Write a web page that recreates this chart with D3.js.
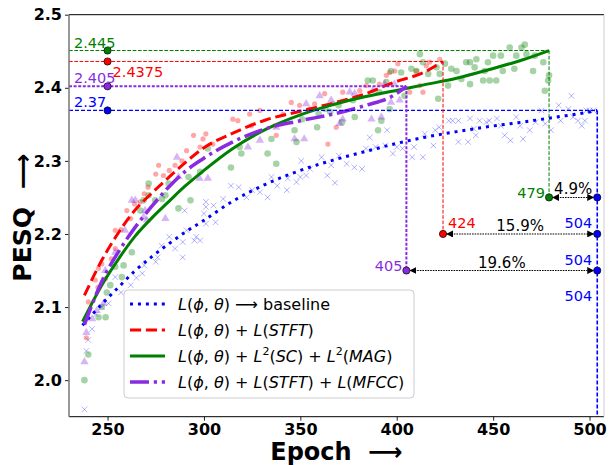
<!DOCTYPE html>
<html>
<head>
<meta charset="utf-8">
<script src="https://d3js.org/d3.v7.min.js"></script>
<style>
    body { margin: 0; background: #fff; }
    svg { display: block; font-family: "DejaVu Sans", sans-serif; }
</style>
</head>
<body>
<svg id="svg" width="609" height="465"></svg>
<script>
    // ---- data ----
    const xTicks = [250, 300, 350, 400, 450, 500];
    const yTicks = [2.0, 2.1, 2.2, 2.3, 2.4, 2.5];

    const seriesColors = ["blue", "red", "green", "blueviolet"];
    const legendLabels = [
        "L(ϕ, θ) ⟶ baseline",
        "L(ϕ, θ) + L(STFT)",
        "L(ϕ, θ) + L^2(SC) + L^2(MAG)",
        "L(ϕ, θ) + L(STFT) + L(MFCC)"
    ];

    // fitted curves [epoch, pesq]
    const baselineFit = [[237, 2.075], [247, 2.104], [256, 2.128], [264, 2.149], [273, 2.169], [282, 2.187], [290, 2.202],
        [299, 2.217], [315, 2.245], [332, 2.268], [350, 2.287], [367, 2.301], [384, 2.313], [400, 2.324], [414, 2.332],
        [431, 2.34], [448, 2.347], [465, 2.353], [483, 2.36], [500, 2.367], [504, 2.369]];
    const stftFit = [[238, 2.116], [247, 2.164], [256, 2.203], [264, 2.232], [273, 2.256], [282, 2.278], [290, 2.297],
        [300, 2.318], [315, 2.338], [332, 2.356], [350, 2.368], [367, 2.379], [384, 2.392], [398, 2.407], [414, 2.421], [424, 2.436]];
    const scMagFit = [[237, 2.08], [247, 2.13], [256, 2.167], [264, 2.196], [273, 2.222], [282, 2.245], [290, 2.265],
        [300, 2.287], [315, 2.317], [332, 2.343], [350, 2.363], [367, 2.377], [384, 2.388], [401, 2.397], [414, 2.404],
        [431, 2.413], [448, 2.425], [465, 2.438], [479, 2.451]];
    const mfccFit = [[238, 2.076], [241, 2.097], [247, 2.135], [256, 2.177], [264, 2.208], [273, 2.238], [282, 2.265],
        [290, 2.285], [299, 2.302], [315, 2.326], [332, 2.344], [350, 2.355], [367, 2.364], [384, 2.376], [398, 2.389], [405, 2.402]];

    // raw scores [epoch, pesq]
    const baselineScores = [[238, 1.96], [239, 2.04], [240, 2.055], [242, 2.07], [244, 2.09], [247, 2.1], [250.5, 2.105],
        [254, 2.141], [257, 2.12], [262, 2.13], [265, 2.14], [268, 2.146], [269, 2.157], [275, 2.162], [276, 2.168],
        [278, 2.184], [282, 2.196], [285, 2.18], [289, 2.168], [289, 2.189], [291, 2.205], [290, 2.232], [295, 2.191],
        [296, 2.196], [298, 2.191], [300, 2.228], [301, 2.237], [301, 2.214], [301, 2.244], [305, 2.239], [306, 2.216],
        [310, 2.248], [314, 2.266], [318, 2.264], [322, 2.25], [325, 2.26], [329, 2.257], [333, 2.25], [335, 2.278],
        [338, 2.266], [343, 2.26], [343.5, 2.276], [348, 2.271], [350, 2.278], [350.5, 2.3], [353, 2.28], [355, 2.289],
        [361, 2.305], [364, 2.28], [366, 2.294], [368, 2.27], [370, 2.307], [374, 2.296], [378, 2.291], [382, 2.289],
        [384, 2.317], [386, 2.332], [389, 2.319], [394, 2.321], [395, 2.342], [398, 2.31], [400, 2.319], [403, 2.317],
        [408, 2.305], [409, 2.319], [413.6, 2.305], [414.5, 2.337], [419, 2.321], [420, 2.342], [422, 2.346], [427, 2.355],
        [429, 2.355], [432, 2.355], [432, 2.326], [437, 2.326], [438, 2.358], [440, 2.344], [441, 2.335], [443, 2.355],
        [446.5, 2.353], [448, 2.355], [452, 2.358], [454, 2.348], [456, 2.335], [459, 2.328], [462, 2.36], [464, 2.348],
        [465.5, 2.33], [469, 2.342], [472, 2.353], [475, 2.369], [477, 2.351], [480, 2.342], [484, 2.376], [485, 2.355],
        [489, 2.371], [490.6, 2.389], [491.5, 2.36], [494, 2.355], [496, 2.348], [497.6, 2.355], [498.4, 2.369],
        [500, 2.369], [502, 2.369]];
    const stftScores = [[239, 2.058], [240, 2.107], [243.6, 2.137], [245, 2.127], [245.3, 2.153], [247, 2.159], [249, 2.139],
        [252, 2.166], [254, 2.205], [254, 2.18], [257, 2.206], [260, 2.232], [262, 2.221], [264, 2.241], [267, 2.244],
        [269, 2.255], [271, 2.264], [275, 2.282], [276.5, 2.294], [279, 2.28], [282, 2.287], [285, 2.294], [288.6, 2.3],
        [291, 2.314], [294.6, 2.335], [298, 2.319], [299.5, 2.33], [301, 2.337], [304.6, 2.323], [315, 2.357], [317.6, 2.355],
        [323.7, 2.364], [324.6, 2.348], [329, 2.369], [336.6, 2.348], [337.5, 2.335], [341, 2.364], [345.3, 2.38],
        [349.6, 2.376], [354.8, 2.371], [357.4, 2.378], [362.6, 2.392], [364.3, 2.323], [367, 2.378], [368.6, 2.346],
        [372, 2.394], [380.8, 2.396], [384.2, 2.403], [391, 2.405], [394.6, 2.417], [396.3, 2.421], [399, 2.423],
        [400.6, 2.433], [406.7, 2.394], [410.2, 2.423], [412, 2.403], [413.6, 2.394], [415.3, 2.43], [417, 2.435], [422.3, 2.439]];
    const scMagScores = [[238, 2.0], [240, 2.035], [245.3, 2.086], [247, 2.1], [249, 2.086], [249.6, 2.12], [251.4, 2.13],
        [254, 2.155], [257.4, 2.141], [258.3, 2.157], [262.6, 2.175], [267, 2.232], [268.7, 2.246], [271.3, 2.253],
        [271.3, 2.269], [274.7, 2.246], [278.2, 2.248], [280, 2.253], [281.7, 2.269], [286.8, 2.235], [292, 2.278],
        [293, 2.246], [298, 2.285], [302, 2.317], [314, 2.291], [318.5, 2.319], [319.4, 2.31], [333, 2.31], [335, 2.33],
        [337.5, 2.296], [347, 2.342], [348, 2.326], [351, 2.357], [358.7, 2.346], [359.5, 2.364], [363, 2.371],
        [365.5, 2.367], [369.8, 2.376], [371.6, 2.353], [377.3, 2.383], [378.2, 2.36], [385, 2.41], [387.6, 2.41],
        [390.3, 2.342], [391, 2.394], [392, 2.355], [394.6, 2.408], [396.3, 2.371], [397, 2.423], [402.3, 2.421],
        [404, 2.389], [407.6, 2.426], [410.2, 2.423], [412, 2.446], [413.6, 2.435], [416.3, 2.419], [420.6, 2.428],
        [421.5, 2.385], [422.3, 2.419], [425, 2.433], [426.6, 2.403], [428.3, 2.426], [431, 2.423], [433.5, 2.412],
        [436, 2.435], [438, 2.435], [438, 2.405], [440.4, 2.428], [441.3, 2.439], [444.8, 2.41], [445.6, 2.423],
        [447.3, 2.435], [448.2, 2.41], [450, 2.444], [451.6, 2.41], [454, 2.444], [455, 2.423], [458.6, 2.455],
        [461, 2.426], [462, 2.444], [464.7, 2.455], [466.4, 2.459], [467.3, 2.446], [470.7, 2.423], [471.6, 2.444],
        [476, 2.435], [476.8, 2.396], [478.5, 2.41], [479, 2.417]];
    const mfccScores = [[238, 2.025], [239, 2.065], [242, 2.084], [244.4, 2.095], [248, 2.105], [248.8, 2.15], [254, 2.175],
        [259, 2.205], [262.6, 2.246], [264.4, 2.246], [268.7, 2.223], [269.5, 2.232], [270.4, 2.219], [280, 2.221],
        [286, 2.305], [286.8, 2.278], [297.7, 2.276], [302, 2.276], [322.8, 2.319], [329, 2.328], [337.5, 2.346],
        [347, 2.33], [352, 2.33], [353, 2.378], [360, 2.389], [366, 2.383], [370.4, 2.351], [372, 2.357], [375.6, 2.394],
        [378.2, 2.392], [386.9, 2.357], [387.6, 2.396], [392, 2.36], [393.7, 2.405], [397, 2.38], [398.8, 2.405], [401.5, 2.383]];

    // peak annotations (order: baseline, stft, sc+mag, mfcc)
    const peakLabels = ["2.37", "2.4375", "2.445", "2.405"];
    const markerEpoch = 250;
    // speed-up rows (order: sc+mag, stft, mfcc)
    const rowSeries = [2, 1, 3];
    const rowLevels = [2.25, 2.2, 2.15];
    const rowGains = ["4.9%", "15.9%", "19.6%"];

    const fits = [baselineFit, stftFit, scMagFit, mfccFit];

    // ---- layout ----
    var svg = d3.select("#svg");
    var x = d3.scaleLinear().domain([230, 507.5]).range([69, 604]),
        y = d3.scaleLinear().domain([1.95, 2.5]).range([416.7, 14.7]);
    var pLeft = x.range()[0], pRight = x.range()[1], pTop = y.range()[1], pBottom = y.range()[0];

    var defs = svg.append("defs");
    defs.append("clipPath").attr("id", "plotclip").append("rect")
        .attr("x", pLeft).attr("y", pTop).attr("width", pRight - pLeft).attr("height", pBottom - pTop);
    defs.append("marker").attr("id", "head").attr("viewBox", "0 0 10 10")
        .attr("refX", 10).attr("refY", 5).attr("markerWidth", 7).attr("markerHeight", 7)
        .attr("markerUnits", "userSpaceOnUse").attr("orient", "auto-start-reverse")
        .append("path").attr("d", "M0,0 L10,5 L0,10 z").attr("fill", "black");

    var plot = svg.append("g").attr("clip-path", "url(#plotclip)");

    // scatter
    var xMark = d3.symbol().type(d3.symbolX).size(22),
        tri = d3.symbol().type(d3.symbolTriangle).size(30);
    plot.append("g").selectAll("path").data(baselineScores).join("path")
        .attr("transform", d => "translate(" + x(d[0]) + "," + y(d[1]) + ")")
        .attr("d", xMark).attr("fill", "none").attr("stroke", "blue").attr("stroke-width", 1).attr("opacity", 0.3);
    plot.append("g").selectAll("circle").data(stftScores).join("circle")
        .attr("cx", d => x(d[0])).attr("cy", d => y(d[1])).attr("r", 2.6).attr("fill", "red").attr("opacity", 0.35);
    plot.append("g").selectAll("circle").data(scMagScores).join("circle")
        .attr("cx", d => x(d[0])).attr("cy", d => y(d[1])).attr("r", 3.3).attr("fill", "green").attr("opacity", 0.35);
    plot.append("g").selectAll("path").data(mfccScores).join("path")
        .attr("transform", d => "translate(" + x(d[0]) + "," + y(d[1]) + ")")
        .attr("d", tri).attr("fill", "blueviolet").attr("opacity", 0.35);

    // fitted curves
    const styles = [
        { w: 3, dash: "3,4.95" },
        { w: 3, dash: "11.1,4.8" },
        { w: 3, dash: null },
        { w: 3.5, dash: "19,4.8,3.2,4.8" }
    ];
    var line = d3.line().x(d => x(d[0])).y(d => y(d[1])).curve(d3.curveMonotoneX);
    fits.forEach(function (f, i) {
        plot.append("path").attr("d", line(f)).attr("fill", "none")
            .attr("stroke", seriesColors[i]).attr("stroke-width", styles[i].w)
            .attr("stroke-dasharray", styles[i].dash);
    });

    // guide lines from each curve's end
    const guideW = [1.6, 1, 1, 2];
    const guideDash = ["4,2", "3.7,1.6", "3.7,1.6", "3,1.6"];
    fits.forEach(function (f, i) {
        var end = f[f.length - 1];
        var r = rowSeries.indexOf(i);
        var yEnd = r < 0 ? pBottom : y(rowLevels[r]);
        svg.append("line").attr("x1", pLeft).attr("x2", x(end[0])).attr("y1", y(end[1])).attr("y2", y(end[1]))
            .attr("stroke", seriesColors[i]).attr("stroke-width", i == 0 ? 1.2 : guideW[i]).attr("stroke-dasharray", guideDash[i]);
        svg.append("line").attr("x1", x(end[0])).attr("x2", x(end[0])).attr("y1", y(end[1])).attr("y2", yEnd)
            .attr("stroke", seriesColors[i]).attr("stroke-width", guideW[i]).attr("stroke-dasharray", guideDash[i]);
    });

    // arrows between epochs
    rowSeries.forEach(function (s, r) {
        var f = fits[s], e = f[f.length - 1][0], yy = y(rowLevels[r]);
        var xb = x(baselineFit[baselineFit.length - 1][0]);
        svg.append("line").attr("x1", x(e) + 3).attr("x2", xb - 3).attr("y1", yy).attr("y2", yy)
            .attr("stroke", "black").attr("stroke-width", 1.1).attr("stroke-dasharray", "1.6,1")
            .attr("marker-start", "url(#head)").attr("marker-end", "url(#head)");
        svg.append("text").attr("x", (x(e) + xb) / 2).attr("y", yy - 3).attr("text-anchor", "middle")
            .attr("font-size", 15).attr("fill", "black").text(rowGains[r]);
        svg.append("circle").attr("cx", x(e)).attr("cy", yy).attr("r", 3.6)
            .attr("fill", seriesColors[s]).attr("stroke", "#111").attr("stroke-width", 0.8);
        svg.append("circle").attr("cx", xb).attr("cy", yy).attr("r", 3.6)
            .attr("fill", "blue").attr("stroke", "#111").attr("stroke-width", 0.8);
        if (s == 1) {
            svg.append("text").attr("x", x(e) + 5).attr("y", yy - 6).attr("font-size", 14.5)
                .attr("fill", seriesColors[s]).text(e);
        } else {
            svg.append("text").attr("x", x(e) - 4).attr("y", yy + (s == 2 ? 1 : 0)).attr("text-anchor", "end")
                .attr("font-size", 14.5).attr("fill", seriesColors[s]).text(e);
        }
        svg.append("text").attr("x", xb - 5).attr("y", y(rowLevels[r] - 0.05) - 6).attr("text-anchor", "end")
            .attr("font-size", 14.5).attr("fill", "blue").text(baselineFit[baselineFit.length - 1][0]);
    });

    // peak markers and labels
    fits.forEach(function (f, i) {
        var v = f[f.length - 1][1];
        svg.append("circle").attr("cx", x(markerEpoch)).attr("cy", y(v)).attr("r", 3.6)
            .attr("fill", seriesColors[i]).attr("stroke", "#111").attr("stroke-width", 0.8);
        var t = svg.append("text").attr("font-size", 14.5).attr("fill", seriesColors[i]).text(peakLabels[i]);
        if (i == 1) t.attr("x", x(markerEpoch) + 5).attr("y", y(v) + 16);
        else t.attr("x", pLeft + 5).attr("y", y(v) - 3);
    });

    // axes
    var xAxis = svg.append("g").attr("transform", "translate(0," + pBottom + ")")
        .call(d3.axisBottom(x).tickValues(xTicks).tickSize(4).tickPadding(3).tickFormat(d3.format("d")));
    var yAxis = svg.append("g").attr("transform", "translate(" + pLeft + ",0)")
        .call(d3.axisLeft(y).tickValues(yTicks).tickSize(4).tickPadding(3).tickFormat(d3.format(".1f")));
    [xAxis, yAxis].forEach(function (a) {
        a.select(".domain").remove();
        a.selectAll("text").attr("font-size", 16).attr("font-weight", "bold").attr("fill", "black")
            .attr("font-family", "DejaVu Sans");
        a.selectAll("line").attr("stroke", "#222");
    });

    // frame
    svg.append("line").attr("x1", pLeft).attr("x2", pRight).attr("y1", pTop).attr("y2", pTop).attr("stroke", "black");
    svg.append("line").attr("x1", pLeft).attr("x2", pRight).attr("y1", pBottom).attr("y2", pBottom).attr("stroke", "black");
    svg.append("line").attr("x1", pLeft).attr("x2", pLeft).attr("y1", pTop).attr("y2", pBottom).attr("stroke", "#777").attr("stroke-width", 1.5);
    svg.append("line").attr("x1", pRight).attr("x2", pRight).attr("y1", pTop).attr("y2", pBottom).attr("stroke", "#ccc");

    // axis titles
    svg.append("text").attr("x", (pLeft + pRight) / 2).attr("y", 460).attr("text-anchor", "middle")
        .attr("font-size", 24).attr("font-weight", "bold").style("white-space", "pre").text("Epoch  ⟶");
    svg.append("text").attr("transform", "translate(31," + ((pTop + pBottom) / 2 + 2) + ") rotate(-90)")
        .attr("text-anchor", "middle").attr("font-size", 25).attr("font-weight", "bold")
        .style("white-space", "pre").text("PESQ  ⟶");

    // legend
    var lg = svg.append("g").attr("transform", "translate(124,290)");
    lg.append("rect").attr("width", 290).attr("height", 108).attr("rx", 4)
        .attr("fill", "white").attr("fill-opacity", 0.8).attr("stroke", "#ccc");
    function mathText(t, s) {
        var parts = s.split(/(\^2)/), pendingDy = 0;
        parts.forEach(function (p) {
            if (p == "^2") {
                t.append("tspan").attr("font-size", 11).attr("font-style", "normal").attr("dy", -7).text("2");
                pendingDy = 7;
                return;
            }
            var chunks = p.match(/[A-Zϕθ]+|[^A-Zϕθ]+/g) || [];
            chunks.forEach(function (c) {
                var ts = t.append("tspan").attr("font-style", /[A-Zϕθ]/.test(c) ? "italic" : "normal").text(c);
                if (pendingDy) { ts.attr("dy", pendingDy); pendingDy = 0; }
            });
        });
    }
    legendLabels.forEach(function (lab, i) {
        var yy = 14 + i * 26;
        lg.append("line").attr("x1", 6).attr("x2", 41).attr("y1", yy).attr("y2", yy)
            .attr("stroke", seriesColors[i]).attr("stroke-width", styles[i].w).attr("stroke-dasharray", styles[i].dash);
        var t = lg.append("text").attr("x", 54).attr("y", yy + 6).attr("font-size", 16).attr("fill", "black")
            .style("white-space", "pre");
        mathText(t, lab);
    });
</script>
</body>
</html>
